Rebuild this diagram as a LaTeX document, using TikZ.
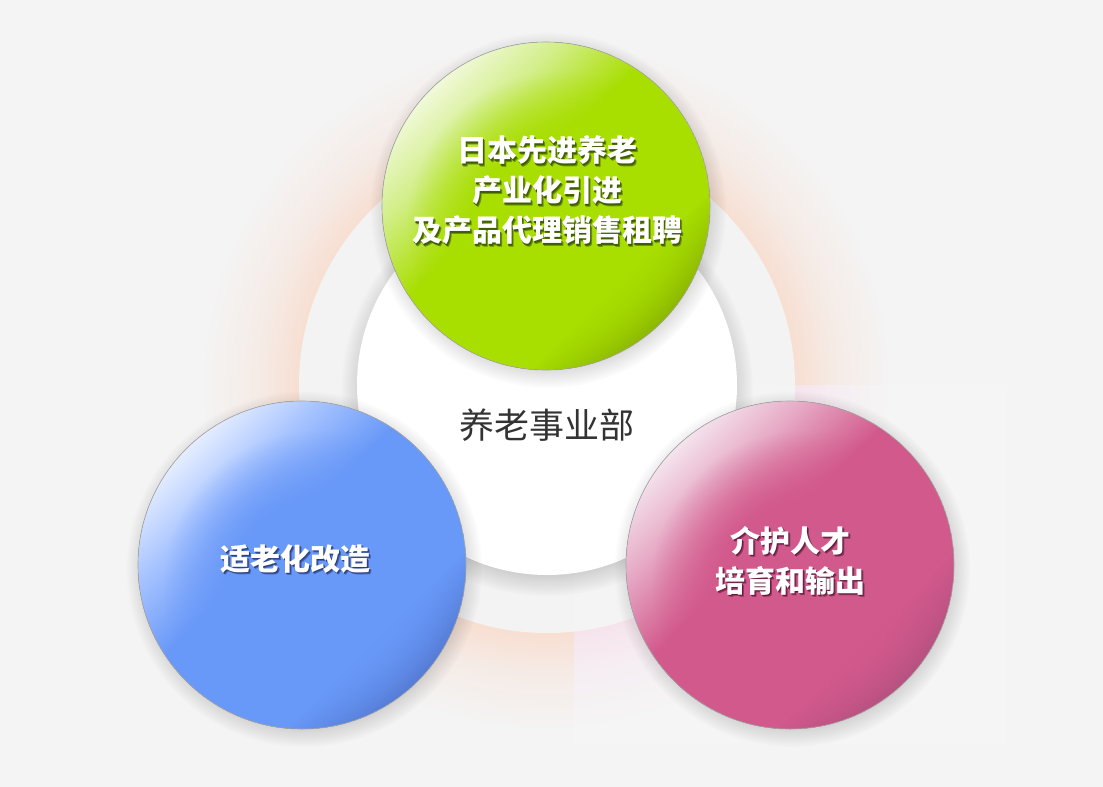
\documentclass[tikz,border=0pt]{standalone}
\usepackage{fontspec}
\newfontfamily\cjk{Noto Sans CJK SC}
\usetikzlibrary{fadings,calc}

\definecolor{bgc}{HTML}{F4F4F4}
\definecolor{ringc}{HTML}{F3F3F3}
\definecolor{peach}{HTML}{F8DFD2}
\definecolor{pinkglow}{HTML}{F6E0EB}
\definecolor{rimc}{HTML}{A8A8A8}
\definecolor{gbase}{HTML}{A8DE00}
\definecolor{glight}{HTML}{D2EE88}
\definecolor{glight2}{HTML}{F0F9D8}
\definecolor{gdark}{HTML}{86B000}
\definecolor{bbase}{HTML}{6898F8}
\definecolor{blight}{HTML}{A8C4FF}
\definecolor{blight2}{HTML}{E4EDFF}
\definecolor{bdark}{HTML}{5276CE}
\definecolor{pbase}{HTML}{D2598C}
\definecolor{plight}{HTML}{E6A8C4}
\definecolor{plight2}{HTML}{F4E2EC}
\definecolor{pdark}{HTML}{B0507E}
\definecolor{centertext}{HTML}{333333}
\definecolor{gsh}{HTML}{2E4600}
\definecolor{bsh}{HTML}{1C2C66}
\definecolor{psh}{HTML}{4E1030}

\pgfdeclareradialshading{glowsh}{\pgfpointorigin}{color(0bp)=(white); color(18.1bp)=(white); color(21bp)=(white!40!black); color(25bp)=(black); color(50bp)=(black)}
\pgfdeclarefading{glowfade}{\pgfuseshading{glowsh}}
\pgfdeclareradialshading{shadsh}{\pgfpointorigin}{color(0bp)=(white); color(21bp)=(white); color(25bp)=(black); color(50bp)=(black)}
\pgfdeclarefading{shadowdisc}{\pgfuseshading{shadsh}}
\pgfdeclareradialshading{softsh}{\pgfpointorigin}{color(0bp)=(white); color(13bp)=(white); color(25bp)=(black); color(50bp)=(black)}
\pgfdeclarefading{softdisc}{\pgfuseshading{softsh}}
\pgfdeclareverticalshading{greensh}{100bp}{color(0bp)=(gdark); color(25bp)=(gdark); color(34bp)=(gbase); color(55bp)=(gbase); color(66bp)=(glight); color(75bp)=(glight2); color(100bp)=(glight2)}
\pgfdeclareverticalshading{bluesh}{100bp}{color(0bp)=(bdark); color(25bp)=(bdark); color(34bp)=(bbase); color(55bp)=(bbase); color(66bp)=(blight); color(75bp)=(blight2); color(100bp)=(blight2)}
\pgfdeclareverticalshading{pinksh}{100bp}{color(0bp)=(pdark); color(25bp)=(pdark); color(34bp)=(pbase); color(55bp)=(pbase); color(66bp)=(plight); color(75bp)=(plight2); color(100bp)=(plight2)}

\tikzset{
  lbl/.style={font=\cjk\bfseries\fontsize{30}{40}\selectfont, align=center, inner sep=0pt},
  centerlbl/.style={font=\cjk\fontsize{35}{40}\selectfont, text=centertext, inner sep=0pt},
  rim/.style={draw=rimc, line width=0.6pt}
}

% one line of white text with a soft drop shadow (far colour, near colour, text)
\newcommand\shl[3]{%
  \makebox[0pt]{\hspace*{5.4pt}\raisebox{-2.7pt}{\textcolor{#1}{#3}}}%
  \makebox[0pt]{\hspace*{3pt}\raisebox{-1.5pt}{\textcolor{#2}{#3}}}%
  \makebox[0pt]{\textcolor{white}{#3}}}

\newcommand\drawball[3]{% centre, shading, base colour
  \fill[black, opacity=0.2, path fading=shadowdisc] ($(#1)+(2,4)$) circle (178);
  \begin{scope}
    \clip (#1) circle (164);
    \fill[shading=#2, shading angle=45] (#1) circle (164);
    \fill[#3, path fading=softdisc] ($(#1)+(14,18)$) circle (152);
  \end{scope}
  \draw[rim] (#1) circle (164);
}

\begin{document}
\begin{tikzpicture}[x=1pt,y=-1pt]
  \useasboundingbox (0,0) rectangle (1103,787);
  \fill[bgc] (0,0) rectangle (1103,787);

  \coordinate (mc) at (547,385);
  \coordinate (gc) at (546,206);
  \coordinate (bc) at (302,565);
  \coordinate (pc) at (790,565);

  % glow ring
  \fill[peach, path fading=glowfade] (mc) circle (342);
  \fill[ringc] (mc) circle (248);

  % pink image box overlay
  \begin{scope}
    \clip (574,385) rectangle (1007,745);
    \fill[bgc] (574,385) rectangle (1007,745);
    \fill[pinkglow, path fading=glowfade] (mc) circle (342);
    \fill[ringc] (mc) circle (248);
    \fill[white, opacity=0.15] (574,385) rectangle (1007,745);
  \end{scope}

  % white centre circle
  \fill[black, opacity=0.22, path fading=shadowdisc] ($(mc)+(0,5)$) circle (206);
  \fill[white] (mc) circle (190);
  \node[centerlbl] (centre) at (547,425) {养老事业部};

  % balls
  \drawball{gc}{greensh}{gbase}
  \drawball{bc}{bluesh}{bbase}
  \drawball{pc}{pinksh}{pbase}

  \node[lbl] (gt) at (547,192) {\shl{gsh!50!gbase}{gsh!85!gbase}{日本先进养老}\\\shl{gsh!50!gbase}{gsh!85!gbase}{产业化引进}\\\shl{gsh!50!gbase}{gsh!85!gbase}{及产品代理销售租聘}};
  \node[lbl] (bt) at (295,560) {\shl{bsh!50!bbase}{bsh!85!bbase}{适老化改造}};
  \node[lbl] (pt) at (790,562) {\shl{psh!50!pbase}{psh!85!pbase}{介护人才}\\\shl{psh!50!pbase}{psh!85!pbase}{培育和输出}};
\end{tikzpicture}
\end{document}
